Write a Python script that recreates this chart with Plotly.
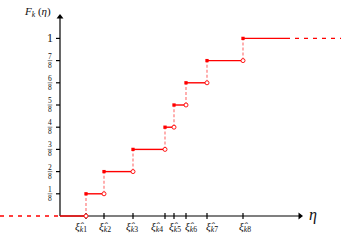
import plotly.graph_objects as go

# ---- data ----
xi_positions = [26, 44, 73, 105, 114, 126, 147, 183]       # positions of xi_k1..xi_k8 (axis units)
xi_labels = ["k1", "k2", "k3", "k4", "k5", "k6", "k7", "k8"]
levels = [1/8, 2/8, 3/8, 4/8, 5/8, 6/8, 7/8, 1.0]            # F_k after each jump
level_num = ["1", "2", "3", "4", "5", "6", "7"]
level_den = ["8", "8", "8", "8", "8", "8", "8"]
x_left_end = -60
x_solid_end = 226
x_right_end = 281
x_axis_end = 242
y_axis_top = 1.132

# ---- style ----
RED = "#ff0000"
PINK = "rgba(255,0,0,0.45)"
FONT = "Liberation Serif"
TXT = "#111"
label_xshift = [-5, 0.5, -1.5, -8, 1, 4.5, 4.5, 2]   # pixel nudges of the xi labels

fig = go.Figure()

# axis lines (below traces)
fig.add_shape(type="line", x0=0, x1=x_axis_end - 3, y0=0, y1=0, line=dict(color="black", width=1.2), layer="below")
fig.add_shape(type="line", x0=0, x1=0, y0=0, y1=y_axis_top - 0.015, line=dict(color="black", width=1.2), layer="below")
# arrowheads as markers
fig.add_trace(go.Scatter(x=[x_axis_end - 2], y=[0], mode="markers", hoverinfo="skip",
                         marker=dict(symbol="triangle-right", size=6, color="black", line=dict(width=0))))
fig.add_trace(go.Scatter(x=[0], y=[y_axis_top - 0.012], mode="markers", hoverinfo="skip",
                         marker=dict(symbol="triangle-up", size=6, color="black", line=dict(width=0))))

# x ticks
for xv in xi_positions:
    fig.add_shape(type="line", x0=xv, x1=xv, y0=-0.017, y1=0.017, line=dict(color="black", width=1.2), layer="below")
# y ticks
for yv in levels:
    fig.add_shape(type="line", x0=-4, x1=0, y0=yv, y1=yv, line=dict(color="black", width=1.2), layer="below")

# left dashed continuation at 0
fig.add_trace(go.Scatter(x=[x_left_end, 0], y=[0, 0], mode="lines",
                         line=dict(color=RED, width=1.4, dash="4px,5px"), hoverinfo="skip"))
# right dashed continuation at 1
fig.add_trace(go.Scatter(x=[x_solid_end, x_right_end], y=[1, 1], mode="lines",
                         line=dict(color=RED, width=1.4, dash="4px,5px"), hoverinfo="skip"))

# vertical dashed jumps
vx, vy = [], []
prev = 0
for xv, lv in zip(xi_positions, levels):
    vx += [xv, xv, None]
    vy += [prev, lv, None]
    prev = lv
fig.add_trace(go.Scatter(x=vx, y=vy, mode="lines", line=dict(color=PINK, width=1.4, dash="3px,2px"), hoverinfo="skip"))

# solid steps
sx, sy = [0, xi_positions[0], None], [0, 0, None]
ends = xi_positions[1:] + [x_solid_end]
for xv, xe, lv in zip(xi_positions, ends, levels):
    sx += [xv, xe, None]
    sy += [lv, lv, None]
fig.add_trace(go.Scatter(x=sx, y=sy, mode="lines", line=dict(color=RED, width=1.4), hoverinfo="skip"))

# open circles (right limits / lower values)
lower = [0] + levels[:-1]
fig.add_trace(go.Scatter(x=xi_positions, y=lower, mode="markers",
                         marker=dict(symbol="circle", size=4, color="white", line=dict(color=RED, width=0.9)),
                         hoverinfo="skip"))
# filled dots
fig.add_trace(go.Scatter(x=xi_positions, y=levels, mode="markers",
                         marker=dict(symbol="square", size=3.3, color=RED, line=dict(width=0)),
                         hoverinfo="skip"))

# y tick labels (fractions)
for n, d, lv in zip(level_num, level_den, levels[:-1]):
    fig.add_annotation(x=-10, y=lv, xref="x", yref="y", text=n, showarrow=False, yshift=4.5,
                       font=dict(family=FONT, size=7.5, color=TXT), xanchor="center", yanchor="middle")
    fig.add_annotation(x=-10, y=lv, xref="x", yref="y", text=d, showarrow=False, yshift=-4.5,
                       font=dict(family=FONT, size=7.5, color=TXT), xanchor="center", yanchor="middle")
    fig.add_shape(type="line", x0=-12.3, x1=-7.7, y0=lv, y1=lv, line=dict(color="#333", width=0.6))
fig.add_annotation(x=-10, y=levels[-1], xref="x", yref="y", text="1", showarrow=False,
                   font=dict(family=FONT, size=12, color=TXT), xanchor="center", yanchor="middle")

# x tick labels
for xv, lab, dx in zip(xi_positions, xi_labels, label_xshift):
    fig.add_annotation(x=xv, y=0, xref="x", yref="y",
                       text="<i>ξ̂</i><sub><i>" + lab[0] + "</i>" + lab[1:] + "</sub>",
                       showarrow=False, yshift=-11, xshift=dx, font=dict(family=FONT, size=11, color=TXT),
                       xanchor="center", yanchor="middle")

# axis titles
fig.add_annotation(x=x_axis_end + 11, y=0, xref="x", yref="y", text="<i>η</i>", showarrow=False,
                   font=dict(family=FONT, size=16, color=TXT), xanchor="center", yanchor="middle", yshift=1)
fig.add_annotation(x=-23, y=y_axis_top + 0.015, xref="x", yref="y", text="<i>F</i><sub><i>k</i></sub> (<i>η</i>)",
                   showarrow=False, font=dict(family=FONT, size=11, color=TXT), xanchor="center", yanchor="middle")

fig.update_layout(
    width=341, height=240, autosize=False,
    margin=dict(l=0, r=0, t=0, b=0),
    paper_bgcolor="white", plot_bgcolor="white",
    showlegend=False,
    xaxis=dict(range=[-60, 281], visible=False, fixedrange=True),
    yaxis=dict(range=[-0.1351, 1.2162], visible=False, fixedrange=True),
)

fig.write_html("out.html", config={"displayModeBar": False},
               post_script="document.body.style.margin='0px';document.body.style.overflow='hidden';")
